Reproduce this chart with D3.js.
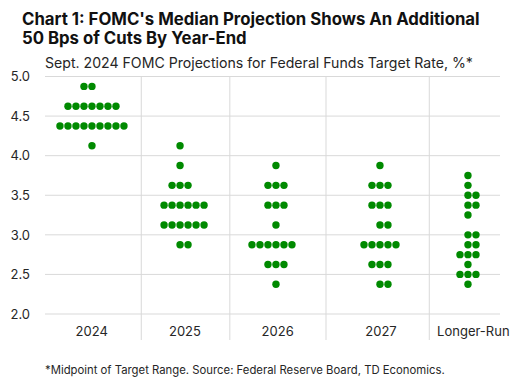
<!DOCTYPE html>
<html>
<head>
<meta charset="utf-8">
<script src="https://cdn.jsdelivr.net/npm/d3@7"></script>
<style>
  html, body { margin: 0; padding: 0; background: #fff; }
  svg { display: block; font-family: Inter, "Noto Sans", sans-serif; }
</style>
</head>
<body>
<svg id="chart" width="516" height="385"></svg>
<script>
// ---- data ----
const categories = ["2024", "2025", "2026", "2027", "Longer-Run"];
// category positions in chart x-units
const categoryX = [0.516, 1.484, 2.538, 3.681, 4.648];
const labelX = [0.513, 1.538, 2.557, 3.692, 4.707];
const separatorX = [1.058, 2.031, 3.088, 4.223];

const rates2024 = [4.875, 4.625, 4.375, 4.125];
const counts2024 = [2, 7, 9, 1];
const rates2025 = [4.125, 3.875, 3.625, 3.375, 3.125, 2.875];
const counts2025 = [1, 1, 3, 6, 6, 2];
const rates2026 = [3.875, 3.625, 3.375, 3.125, 2.875, 2.625, 2.375];
const counts2026 = [1, 3, 3, 1, 6, 3, 1];
const rates2027 = [3.875, 3.625, 3.375, 3.125, 2.875, 2.625, 2.375];
const counts2027 = [1, 3, 3, 2, 5, 3, 2];
const ratesLR = [3.75, 3.625, 3.5, 3.375, 3.25, 3.0, 2.875, 2.75, 2.625, 2.5, 2.375];
const countsLR = [1, 1, 2, 2, 1, 2, 2, 3, 1, 3, 1];

const yTicks = [2.0, 2.5, 3.0, 3.5, 4.0, 4.5, 5.0];

const title1 = "Chart 1: FOMC's Median Projection Shows An Additional";
const title2 = "50 Bps of Cuts By Year-End";
const subtitle = "Sept. 2024 FOMC Projections for Federal Funds Target Rate, %*";
const footnote = "*Midpoint of Target Range. Source: Federal Reserve Board, TD Economics.";

// ---- build ----
(function () {
const series = [
  [rates2024, counts2024],
  [rates2025, counts2025],
  [rates2026, counts2026],
  [rates2027, counts2027],
  [ratesLR, countsLR]
];
const evenBias = [-1, 1, -1, 1, 1]; // which side an even row leans to

const svg = d3.select("#chart");
const mLeft = 45, mRight = 500, mTop = 76.5, mBottom = 314;

const x = d3.scaleLinear().domain([0, 5]).range([mLeft, mRight]);
const y = d3.scaleLinear().domain([2, 5]).range([mBottom, mTop]);

const grid = "#d9d9d9";
const textCol = "#262626";
const green = "#008a00";
const dotStep = 8, dotR = 3.7;

function fit(sel, target) {
  const node = sel.node();
  const fs = parseFloat(sel.attr("font-size"));
  const w = node.getComputedTextLength();
  if (w > 0) sel.attr("font-size", (fs * target / w).toFixed(2));
  return parseFloat(sel.attr("font-size"));
}

// titles
const tfs = fit(svg.append("text").attr("x", 22).attr("y", 24.5).attr("font-size", 18)
  .attr("font-weight", 700).attr("fill", "#111").text(title1), 458);
svg.append("text").attr("x", 22).attr("y", 44).attr("font-size", tfs)
  .attr("font-weight", 700).attr("fill", "#111").text(title2);
fit(svg.append("text").attr("x", 45).attr("y", 67.5).attr("font-size", 13)
  .attr("fill", textCol).text(subtitle), 428);

// horizontal gridlines
svg.append("g").selectAll("line").data(yTicks).join("line")
  .attr("x1", mLeft).attr("x2", mRight)
  .attr("y1", d => y(d)).attr("y2", d => y(d))
  .attr("stroke", grid).attr("stroke-width", 1);

// vertical separators
svg.append("g").selectAll("line").data(separatorX).join("line")
  .attr("x1", d => x(d)).attr("x2", d => x(d))
  .attr("y1", mTop).attr("y2", mBottom + 26)
  .attr("stroke", grid).attr("stroke-width", 1);

// y axis labels
const yAxis = d3.axisLeft(y).tickValues(yTicks).tickFormat(d3.format(".1f")).tickSize(0).tickPadding(0);
const gy = svg.append("g").attr("transform", "translate(30,0)").call(yAxis);
gy.select(".domain").remove();
gy.selectAll("text").attr("font-size", 13).attr("fill", textCol)
  .attr("font-family", "Inter, 'Noto Sans', sans-serif");

// category labels
svg.append("g").selectAll("text").data(categories).join("text")
  .attr("x", (d, i) => x(labelX[i])).attr("y", 336)
  .attr("text-anchor", "middle").attr("font-size", 13).attr("fill", textCol)
  .text(d => d);

// dots
const dots = [];
series.forEach(([rates, counts], ci) => {
  rates.forEach((r, ri) => {
    const n = counts[ri];
    let start;
    if (n % 2 === 1) start = -(n - 1) / 2;
    else start = evenBias[ci] < 0 ? -n / 2 : -n / 2 + 1;
    for (let k = 0; k < n; k++) dots.push({ c: ci, r: r, k: start + k });
  });
});
svg.append("g").selectAll("circle").data(dots).join("circle")
  .attr("cx", d => x(categoryX[d.c]) + d.k * dotStep)
  .attr("cy", d => y(d.r))
  .attr("r", dotR)
  .attr("fill", green);

// footnote
fit(svg.append("text").attr("x", 45).attr("y", 374).attr("font-size", 10.5)
  .attr("fill", textCol).text(footnote), 400);
})();
</script>
</body>
</html>
